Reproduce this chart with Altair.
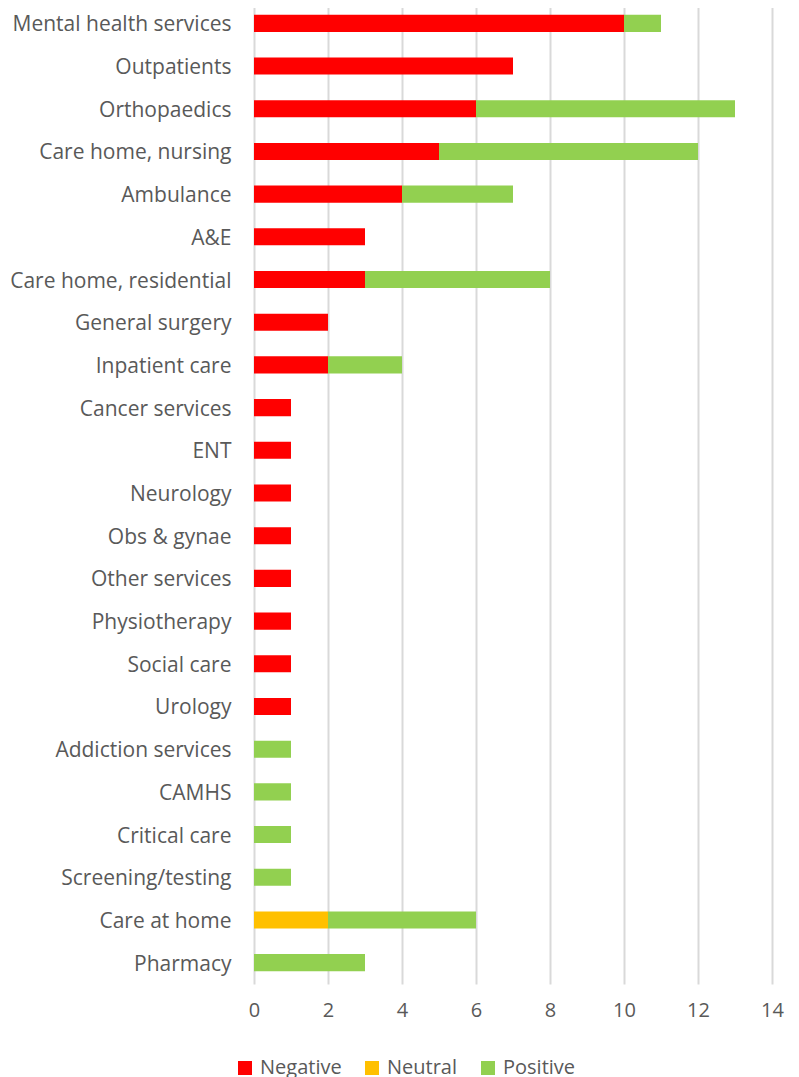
import altair as alt
import pandas as pd

categories = ["Mental health services", "Outpatients", "Orthopaedics", "Care home, nursing",
              "Ambulance", "A&E", "Care home, residential", "General surgery", "Inpatient care",
              "Cancer services", "ENT", "Neurology", "Obs & gynae", "Other services",
              "Physiotherapy", "Social care", "Urology", "Addiction services", "CAMHS",
              "Critical care", "Screening/testing", "Care at home", "Pharmacy"]
negative = [10, 7, 6, 5, 4, 3, 3, 2, 2, 1, 1, 1, 1, 1, 1, 1, 1, 0, 0, 0, 0, 0, 0]
neutral = [0, 0, 0, 0, 0, 0, 0, 0, 0, 0, 0, 0, 0, 0, 0, 0, 0, 0, 0, 0, 0, 2, 0]
positive = [1, 0, 7, 7, 3, 0, 5, 0, 2, 0, 0, 0, 0, 0, 0, 0, 0, 1, 1, 1, 1, 4, 3]
sentiments = ["Negative", "Neutral", "Positive"]
colors = ["#FF0000", "#FFC000", "#92D050"]

rows = []
for i, c in enumerate(categories):
    for s, vals, o in zip(sentiments, [negative, neutral, positive], [0, 1, 2]):
        if vals[i] > 0:
            rows.append({"category": c, "sentiment": s, "value": vals[i], "ord": o})
df = pd.DataFrame(rows)

FONT = "Open Sans"
chart = alt.Chart(df).mark_bar().encode(
    y=alt.Y("category:N", sort=categories, title=None,
            scale=alt.Scale(paddingInner=0.6, paddingOuter=0.3),
            axis=alt.Axis(ticks=False, domain=False, labelPadding=23, labelFontSize=21,
                          labelOffset=2,
                          labelFont=FONT, labelColor="#595959", labelLimit=300)),
    x=alt.X("value:Q", title=None, stack="zero",
            scale=alt.Scale(domain=[0, 14]),
            axis=alt.Axis(values=list(range(0, 15, 2)), ticks=False, domain=False,
                          labelFlush=False,
                          gridColor="#D9D9D9", gridWidth=2, labelPadding=16,
                          labelFontSize=20, labelFont=FONT, labelColor="#595959")),
    color=alt.Color("sentiment:N", sort=sentiments,
                    scale=alt.Scale(domain=sentiments, range=colors),
                    legend=alt.Legend(title=None, orient="none", direction="horizontal",
                                      legendX=-19, legendY=1056, symbolType="square",
                                      symbolSize=196, symbolStrokeWidth=0,
                                      labelFontSize=20, labelFont=FONT, labelColor="#595959",
                                      columnPadding=20, labelOffset=5)),
    order=alt.Order("ord:Q"),
).properties(
    width=518, height=982,
    autosize=alt.AutoSizeParams(type="none"),
    padding={"left": 246, "top": -6, "right": 19, "bottom": 93},
).configure_view(stroke=None)

chart.save("out.html", embed_options={"renderer": "svg", "actions": False})
